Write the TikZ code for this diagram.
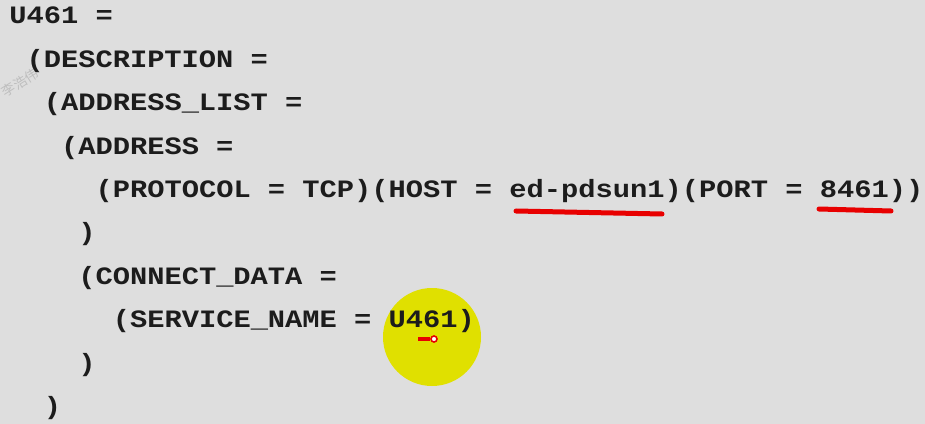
\documentclass[tikz,border=0pt]{standalone}
\usepackage{fontspec}
\usepackage{graphicx}
\usepackage{xcolor}
\usepackage{tikz}
\setmonofont{Liberation Mono}
\newfontfamily\cjk{Noto Sans CJK SC}
\definecolor{bgGray}{RGB}{222,222,222}
\definecolor{codeInk}{RGB}{28,28,28}
\definecolor{wmGray}{RGB}{190,190,190}
\definecolor{hlYellow}{RGB}{224,224,0}
\definecolor{penRed}{RGB}{232,0,0}
\newcommand{\codesq}[1]{\scalebox{1}[0.87]{#1}}

\begin{document}
\begin{tikzpicture}[x=0.75pt,y=-0.75pt,
	codeline/.style={anchor=base west, inner sep=0pt, text=codeInk,
		font=\ttfamily\bfseries\fontsize{21.56}{26}\selectfont},
	underl/.style={color=penRed, line width=3.75pt, line cap=round}]
\fill[color=bgGray] (0,0) rectangle (925,424);
\useasboundingbox (0,0) rectangle (925,424);
\node[rotate=32, text=wmGray, inner sep=0pt, font=\cjk\fontsize{10}{12}\selectfont] (wm) at (20,83) {李浩伟};
\fill[color=hlYellow] (432,337) circle[radius=49];
\foreach \ind/\txt [count=\i] in {0/{U461 =}, 1/{(DESCRIPTION =}, 2/{(ADDRESS\_LIST =},
	3/{(ADDRESS =}, 5/{(PROTOCOL = TCP)(HOST = ed-pdsun1)(PORT = 8461))}, 4/{)},
	4/{(CONNECT\_DATA =}, 6/{(SERVICE\_NAME = U461)}, 4/{)}, 2/{)}}{
	\node[codeline] (l\i) at (9+\ind*17.25, 24+43.4*\i-43.4) {\codesq{\txt}};
}
\draw[underl] (516,211)--(662,214);
\draw[underl] (819,209)--(891,211);
\draw[color=penRed, line width=3pt] (418,339)--(430,339);
\draw[color=penRed, fill=white, line width=1.2pt] (434,339) circle[radius=3];
\end{tikzpicture}
\end{document}
